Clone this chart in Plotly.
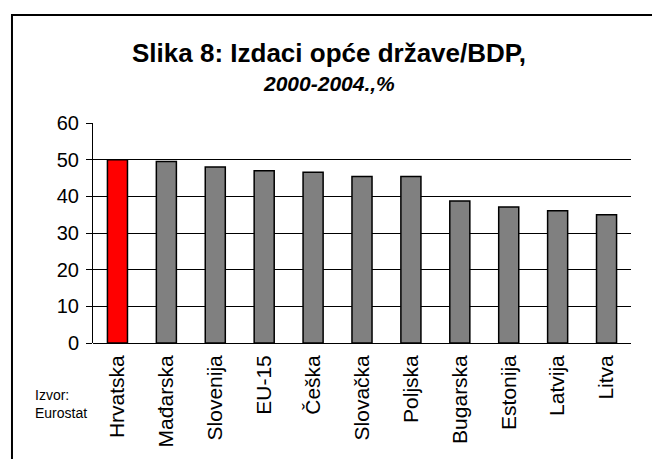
import plotly.graph_objects as go

categories = ["Hrvatska", "Mađarska", "Slovenija", "EU-15", "Češka", "Slovačka",
              "Poljska", "Bugarska", "Estonija", "Latvija", "Litva"]
values = [50.0, 49.5, 48.0, 47.0, 46.6, 45.4, 45.4, 38.7, 37.1, 36.1, 35.0]
bar_colors = ["#FF0000"] + ["#808080"] * 10
y_ticks = [0, 10, 20, 30, 40, 50, 60]

FONT = "Arial, 'Liberation Sans', sans-serif"

fig = go.Figure(go.Bar(
    x=categories, y=values,
    marker=dict(color=bar_colors, line=dict(color="black", width=1.5)),
    width=0.41,
))

fig.update_layout(
    width=652, height=459,
    margin=dict(l=93, r=21, t=123, b=114),
    paper_bgcolor="white", plot_bgcolor="white",
    showlegend=False,
    font=dict(family=FONT, color="black"),
    xaxis=dict(
        tickangle=-90, tickfont=dict(size=21, family=FONT, color="black"),
        showline=False, ticks="", showgrid=False, ticklabelstandoff=7,
    ),
    yaxis=dict(
        range=[0, 60], tickvals=y_ticks, tickfont=dict(size=20, family=FONT, color="black"),
        showline=True, linecolor="black", linewidth=1,
        ticks="outside", ticklen=6, tickcolor="black", ticklabelstandoff=3,
        showgrid=True, gridcolor="black", gridwidth=1,
        zeroline=True, zerolinecolor="black", zerolinewidth=1,
    ),
    annotations=[
        dict(text="<b>Slika 8: Izdaci opće države/BDP,</b>", xref="paper", yref="paper",
             x=0.4387, y=1.320, xanchor="center", yanchor="middle", showarrow=False,
             font=dict(size=26, family=FONT, color="black")),
        dict(text="<b><i>2000-2004.,%</i></b>", xref="paper", yref="paper",
             x=0.4387, y=1.180, xanchor="center", yanchor="middle", showarrow=False,
             font=dict(size=21, family=FONT, color="black")),
        dict(text="Izvor:<br>Eurostat", xref="paper", yref="paper",
             x=-0.1115, y=-0.275, xanchor="left", yanchor="middle", align="left",
             showarrow=False, font=dict(size=14, family=FONT, color="black")),
    ],
    shapes=[
        dict(type="rect", xref="paper", yref="paper", x0=-0.1506, x1=1.2, y0=-1.0, y1=1.491,
             line=dict(color="black", width=2), fillcolor="rgba(0,0,0,0)", layer="below"),
    ],
)

fig.write_html(
    "out.html",
    config={"displayModeBar": False},
    post_script="document.body.style.margin='0';document.body.style.overflow='hidden';",
)
